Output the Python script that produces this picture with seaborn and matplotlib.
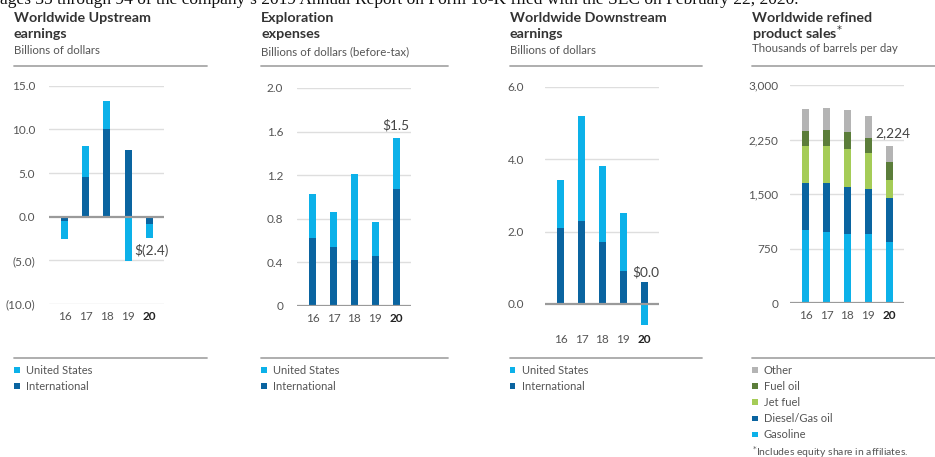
import numpy as np
import pandas as pd
import matplotlib
matplotlib.use("Agg")
import matplotlib.pyplot as plt
import seaborn as sns

# ---------------- data ----------------
years = ["16", "17", "18", "19", "20"]

up_us = [-2.0, 3.6, 3.3, -5.05, -1.6]
up_intl = [-0.5, 4.5, 10.0, 7.65, -0.8]
up_ticks = [-10, -5, 0, 5, 10, 15]
up_ticklabels = ["(10.0)", "(5.0)", "0.0", "5.0", "10.0", "15.0"]

ex_us = [0.41, 0.32, 0.79, 0.31, 0.47]
ex_intl = [0.62, 0.54, 0.42, 0.46, 1.07]
ex_ticks = [0, 0.4, 0.8, 1.2, 1.6, 2.0]
ex_ticklabels = ["0", "0.4", "0.8", "1.2", "1.6", "2.0"]

dn_us = [1.31, 2.91, 2.10, 1.61, -0.58]
dn_intl = [2.10, 2.29, 1.71, 0.90, 0.61]
dn_ticks = [0, 2, 4, 6]
dn_ticklabels = ["0.0", "2.0", "4.0", "6.0"]

rp_gasoline = [1008, 986, 958, 954, 844]
rp_diesel = [652, 670, 638, 619, 605]
rp_jet = [509, 513, 527, 496, 248]
rp_fuel = [202, 216, 230, 211, 248]
rp_other = [307, 307, 302, 298, 220]
rp_ticks = [0, 750, 1500, 2250, 3000]
rp_ticklabels = ["0", "750", "1,500", "2,250", "3,000"]

# ---------------- style ----------------
sns.set_theme(style="white")
plt.rcParams["font.family"] = ["Lato", "DejaVu Sans"]

LIGHT = "#0cb1e9"
DARK = "#0a64a0"
GRAY = "#b4b4b4"
DGREEN = "#5b7d3a"
LGREEN = "#a5cc57"
GRID = "#dedede"
BASE = "#9a9a9a"
RULE = "#a8a8a8"
TXT = "#333333"
SUB = "#555555"

W, H = 935, 457
fig = plt.figure(figsize=(W / 100, H / 100), dpi=100)


def px_rect(x0, y0, x1, y1):
    return [x0 / W, 1 - y1 / H, (x1 - x0) / W, (y1 - y0) / H]


def fx(x):
    return x / W


def fy(y):
    return 1 - y / H


def stacked(ax, layers, colors, names):
    pos = np.zeros(len(years))
    neg = np.zeros(len(years))
    for vals, col, name in zip(layers, colors, names):
        v = np.asarray(vals, dtype=float)
        bottom = np.where(v >= 0, pos, neg)
        df = pd.DataFrame({"year": years, "value": v})
        sns.barplot(data=df, x="year", y="value", order=years, color=col,
                    width=0.33, bottom=bottom, ax=ax, saturation=1,
                    linewidth=0, errorbar=None)
        pos = np.where(v >= 0, pos + v, pos)
        neg = np.where(v < 0, neg + v, neg)
    return pos, neg


def style_axis(ax, ticks, labels, ylim, pad):
    ax.set_xlim(-0.74, 4.7)
    ax.set_ylim(*ylim)
    ax.set_yticks(ticks)
    ax.set_yticklabels(labels)
    for t in ticks:
        if t == 0:
            ax.axhline(0, color=BASE, lw=1.6, zorder=3)
        else:
            ax.axhline(t, color=GRID, lw=1.0, zorder=0)
    for s in ax.spines.values():
        s.set_visible(False)
    ax.set_xlabel("")
    ax.set_ylabel("")
    ax.tick_params(axis="y", length=0, pad=pad, labelsize=8.5, labelcolor=SUB)
    ax.tick_params(axis="x", length=0, pad=5, labelsize=8.5, labelcolor=SUB)
    lbls = ax.get_xticklabels()
    lbls[-1].set_fontweight("bold")
    lbls[-1].set_color("#222222")
    ax.set_facecolor("none")


def rules(x0, x1):
    for y in (66, 358):
        fig.add_artist(plt.Line2D([fx(x0), fx(x1)], [fy(y), fy(y)],
                                  color=RULE, lw=1.3, transform=fig.transFigure))


def header(x0, x1, title_lines, subtitle, ysub):
    fig.text(fx(x0), fy(18), title_lines[0], fontsize=10.3, fontweight="bold",
             color=TXT, va="center", ha="left")
    fig.text(fx(x0), fy(33.5), title_lines[1], fontsize=10.3, fontweight="bold",
             color=TXT, va="center", ha="left")
    fig.text(fx(x0), fy(ysub), subtitle, fontsize=8.3, color=SUB,
             va="center", ha="left")
    rules(x0, x1)


def legend(x0, items, y_start=370, step=16.2):
    for i, (name, col) in enumerate(items):
        y = y_start + i * step
        fig.patches.append(plt.Rectangle((fx(x0), fy(y + 2.5)), 5.5 / W, 5.5 / H,
                                         facecolor=col, edgecolor="none",
                                         transform=fig.transFigure))
        fig.text(fx(x0 + 12), fy(y), name, fontsize=8, color=SUB,
                 va="center", ha="left")


# top cut-off text line (continuation of page text above the charts)
fig.text(0.0, fy(4.5), "ages 35 through 94 of the company\u2019s 2019 Annual Report on Form 10-K filed with the SEC on February 22, 2020.",
         family=["Liberation Serif", "DejaVu Serif"], fontsize=12.5, color="#111111",
         va="baseline", ha="left")

# ---------- Panel 1: Upstream ----------
ax1 = fig.add_axes(px_rect(49, 85.7, 164, 304))
pos, neg = stacked(ax1, [up_intl, up_us], [DARK, LIGHT], ["International", "United States"])
style_axis(ax1, up_ticks, up_ticklabels, (-10, 15), 10)
tot = float(np.sum([up_us[-1], up_intl[-1]]))
ax1.annotate(f"$({abs(tot):.1f})", (4, tot), xytext=(2, -13), textcoords="offset pixels",
             ha="center", va="center", fontsize=9.8, color="#444444")
header(14, 207, ["Worldwide Upstream", "earnings"], "Billions of dollars", 50)
legend(14, [("United States", LIGHT), ("International", DARK)])

# ---------- Panel 2: Exploration ----------
ax2 = fig.add_axes(px_rect(297, 88, 411, 306))
stacked(ax2, [ex_intl, ex_us], [DARK, LIGHT], ["International", "United States"])
style_axis(ax2, ex_ticks, ex_ticklabels, (0, 2.0), 10)
tot = ex_us[-1] + ex_intl[-1]
ax2.annotate(f"${tot:.1f}", (4, tot), xytext=(-1, 13), textcoords="offset pixels",
             ha="center", va="center", fontsize=9.8, color="#444444")
header(261, 448, ["Exploration", "expenses"], "Billions of dollars (before-tax)", 51.5)
legend(261, [("United States", LIGHT), ("International", DARK)])

# ---------- Panel 3: Downstream ----------
ax3 = fig.add_axes(px_rect(545, 86.7, 659, 327.5))
pos, neg = stacked(ax3, [dn_intl, dn_us], [DARK, LIGHT], ["International", "United States"])
style_axis(ax3, dn_ticks, dn_ticklabels, (-0.65, 6.0), 15)
tot = dn_us[-1] + dn_intl[-1]
ax3.annotate(f"${tot:.1f}", (4, pos[-1]), xytext=(1, 10), textcoords="offset pixels",
             ha="center", va="center", fontsize=9.8, color="#444444")
header(510, 702, ["Worldwide Downstream", "earnings"], "Billions of dollars", 50)
legend(510, [("United States", LIGHT), ("International", DARK)])

# ---------- Panel 4: Refined product sales ----------
ax4 = fig.add_axes(px_rect(790, 85.3, 904, 303.3))
pos, neg = stacked(ax4, [rp_gasoline, rp_diesel, rp_jet, rp_fuel, rp_other],
                   [LIGHT, DARK, LGREEN, DGREEN, GRAY],
                   ["Gasoline", "Diesel/Gas oil", "Jet fuel", "Fuel oil", "Other"])
style_axis(ax4, rp_ticks, rp_ticklabels, (0, 3000), 8.5)
ax4.annotate("2,224", (4, pos[-1]), xytext=(3, 13), textcoords="offset pixels",
             ha="center", va="center", fontsize=9.8, color="#444444")
fig.text(fx(752), fy(18), "Worldwide refined", fontsize=10.3, fontweight="bold",
         color=TXT, va="center", ha="left")
fig.text(fx(752), fy(33.5), "product sales$^{*}$", fontsize=10.3, fontweight="bold",
         color=TXT, va="center", ha="left")
fig.text(fx(752), fy(49), "Thousands of barrels per day", fontsize=8.3, color=SUB,
         va="center", ha="left")
rules(752, 935)
legend(752, [("Other", GRAY), ("Fuel oil", DGREEN), ("Jet fuel", LGREEN),
             ("Diesel/Gas oil", DARK), ("Gasoline", LIGHT)])
fig.text(fx(752), fy(452), "$^{*}$Includes equity share in affiliates.", fontsize=7.5,
         color=SUB, va="center", ha="left")

fig.savefig("out.png", dpi=100)
